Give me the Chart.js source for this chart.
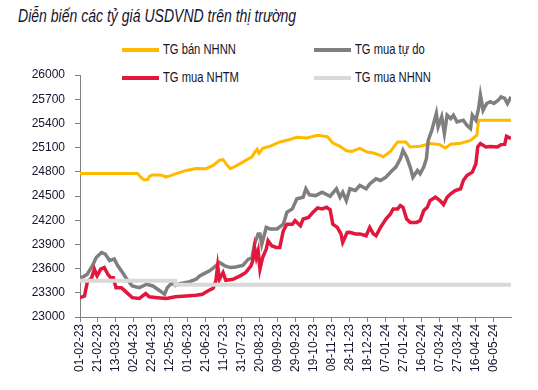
<!DOCTYPE html>
<html>
<head>
<meta charset="utf-8">
<script src="https://cdn.jsdelivr.net/npm/chart.js@4"></script>
<style>
  body { margin: 0; background: #fff; }
  #wrap { position: relative; width: 538px; height: 390px; font-family: "Liberation Sans", Arial, sans-serif; color: #14142e; }
  #title { position: absolute; left: 18px; top: 6px; font-size: 18px; font-style: italic; white-space: nowrap; transform: scaleX(0.78); transform-origin: left center; }
  .lg { position: absolute; height: 20px; }
  .lg i { position: absolute; left: 0; top: 8px; width: 37px; height: 4px; }
  .lg span { position: absolute; left: 41px; top: 1px; font-size: 14px; white-space: nowrap; transform: scaleX(0.8); transform-origin: left center; }
  canvas { position: absolute; left: 0; top: 0; }
</style>
</head>
<body>
<div id="wrap">
  <div id="title">Diễn biến các tỷ giá USDVND trên thị trường</div>
  <div id="legend"></div>
  <canvas id="chart" width="538" height="390"></canvas>
</div>
<script>
// day 0 = 01-02-2023
const startDate = new Date(2023, 1, 1);
const lastDay = 479;

const sellNhnnDays = [0, 64, 67, 71, 75, 77, 80, 89, 93, 95, 100, 106, 118, 129, 140, 148, 155, 159, 162, 167, 173, 181, 187, 191, 194, 197, 199, 203, 211, 222, 233, 241, 252, 264, 275, 281, 289, 296, 302, 311, 319, 326, 334, 337, 345, 353, 362, 367, 378, 389, 400, 406, 412, 423, 434, 441, 443, 479];
const sellNhnnVals = [24780, 24780, 24740, 24700, 24700, 24740, 24760, 24760, 24750, 24735, 24750, 24775, 24817, 24840, 24838, 24879, 24945, 24950, 24904, 24838, 24870, 24920, 24960, 24983, 25040, 25080, 25030, 25090, 25116, 25170, 25200, 25228, 25220, 25253, 25235, 25157, 25116, 25060, 25053, 25090, 25045, 25032, 25004, 24983, 25053, 25170, 25170, 25108, 25116, 25150, 25137, 25095, 25141, 25155, 25190, 25253, 25440, 25440];

const freeBuyDays = [0, 4, 8, 14, 18, 24, 28, 33, 38, 42, 46, 52, 58, 66, 74, 81, 89, 94, 97, 102, 106, 111, 122, 129, 133, 140, 144, 151, 155, 161, 167, 173, 181, 187, 191, 194, 198, 200, 202, 207, 211, 219, 226, 230, 236, 241, 248, 251, 255, 262, 269, 278, 285, 289, 292, 296, 300, 306, 311, 318, 322, 329, 334, 340, 347, 351, 356, 359, 363, 367, 370, 375, 378, 382, 385, 387, 391, 394, 396, 398, 402, 405, 408, 412, 415, 419, 426, 430, 434, 436, 440, 443, 445, 448, 452, 456, 460, 465, 468, 472, 475, 479];
const freeBuyVals = [23488, 23500, 23530, 23640, 23738, 23800, 23780, 23700, 23720, 23634, 23572, 23470, 23385, 23364, 23406, 23385, 23323, 23281, 23364, 23420, 23390, 23414, 23438, 23468, 23510, 23550, 23572, 23634, 23675, 23634, 23613, 23620, 23640, 23717, 23730, 23904, 24030, 24030, 23900, 24110, 24092, 24092, 24150, 24300, 24340, 24465, 24485, 24590, 24515, 24505, 24547, 24497, 24590, 24485, 24547, 24443, 24590, 24568, 24630, 24590, 24650, 24713, 24692, 24733, 24817, 24858, 24962, 25066, 24983, 24858, 24733, 24817, 24775, 24858, 24962, 25190, 25315, 25440, 25523, 25356, 25481, 25274, 25502, 25460, 25502, 25419, 25440, 25377, 25336, 25502, 25440, 25585, 25751, 25564, 25647, 25668, 25647, 25689, 25730, 25710, 25647, 25730];

const bankBuyDays = [0, 5, 8, 13, 16, 19, 23, 27, 31, 34, 37, 40, 46, 52, 58, 66, 73, 77, 86, 96, 106, 118, 129, 136, 142, 148, 151, 153, 155, 159, 162, 170, 178, 184, 190, 192, 194, 196, 198, 200, 203, 207, 209, 213, 218, 222, 226, 230, 236, 239, 245, 248, 254, 259, 264, 269, 274, 278, 281, 286, 290, 292, 297, 300, 306, 311, 318, 322, 326, 329, 334, 340, 345, 348, 353, 356, 359, 363, 367, 374, 378, 382, 386, 389, 395, 400, 404, 408, 412, 417, 423, 426, 430, 436, 440, 442, 445, 451, 456, 464, 468, 472, 474, 479];
const bankBuyVals = [23240, 23260, 23426, 23488, 23593, 23510, 23593, 23613, 23530, 23488, 23488, 23364, 23364, 23302, 23240, 23230, 23290, 23250, 23240, 23230, 23250, 23260, 23270, 23281, 23323, 23356, 23447, 23634, 23468, 23550, 23456, 23468, 23510, 23550, 23634, 23696, 23863, 23738, 23821, 23593, 23738, 23842, 23946, 23883, 23863, 23863, 24070, 24150, 24150, 24194, 24132, 24215, 24235, 24300, 24353, 24340, 24360, 24328, 24150, 24111, 24030, 23924, 24049, 24050, 24030, 24030, 24007, 24111, 24030, 24007, 24111, 24215, 24277, 24340, 24340, 24381, 24360, 24215, 24173, 24173, 24194, 24319, 24360, 24443, 24485, 24443, 24394, 24485, 24527, 24568, 24590, 24692, 24755, 24796, 24900, 25108, 25150, 25108, 25115, 25108, 25137, 25140, 25240, 25212];

const buyNhnnDays = [0, 106, 479];
const buyNhnnVals = [23450, 23400, 23400];

const yMin = 23000, yMax = 26000, yStep = 300;

function pts(days, vals) {
  return days.map((d, i) => ({ x: d, y: vals[i] }));
}
function dayLabel(d) {
  const t = new Date(startDate.getTime());
  t.setDate(t.getDate() + d);
  const p = n => String(n).padStart(2, "0");
  return p(t.getDate()) + "-" + p(t.getMonth() + 1) + "-" + p(t.getFullYear() % 100);
}

const series = [
  { label: "TG bán NHNN", data: pts(sellNhnnDays, sellNhnnVals), color: "#FFBA00", order: 3, width: 3 },
  { label: "TG mua tự do", data: pts(freeBuyDays, freeBuyVals), color: "#7F7F7F", order: 2, width: 3.5 },
  { label: "TG mua NHTM", data: pts(bankBuyDays, bankBuyVals), color: "#E2173D", order: 1, width: 3.5 },
  { label: "TG mua NHNN", data: pts(buyNhnnDays, buyNhnnVals), color: "#D9D9D9", order: 0, width: 4, stepped: true },
];

// legend 2x2
const legendPos = [[122, 40], [314, 40], [122, 68], [314, 68]];
const legendEl = document.getElementById("legend");
series.forEach((s, i) => {
  const d = document.createElement("div");
  d.className = "lg";
  d.style.left = legendPos[i][0] + "px";
  d.style.top = legendPos[i][1] + "px";
  d.innerHTML = '<i style="background:' + s.color + '"></i><span>' + s.label + '</span>';
  legendEl.appendChild(d);
});

const tickFont = { family: "'Liberation Sans', Arial, sans-serif", size: 12 };

new Chart(document.getElementById("chart"), {
  type: "line",
  data: {
    datasets: series.map(s => ({
      label: s.label,
      data: s.data,
      borderColor: s.color,
      backgroundColor: s.color,
      borderWidth: s.width,
      pointRadius: 0,
      tension: 0,
      stepped: s.stepped || false,
      order: s.order,
    })),
  },
  options: {
    responsive: false,
    animation: false,
    layout: { padding: { top: 75, right: 27, left: 0, bottom: 0 } },
    scales: {
      x: {
        type: "linear",
        min: 0,
        max: lastDay,
        afterFit: (scale) => { scale.height = 73; },
        border: { color: "#808080" },
        grid: { drawOnChartArea: false, tickLength: 5, color: "#808080" },
        ticks: {
          stepSize: 20,
          includeBounds: false,
          autoSkip: false,
          minRotation: 90,
          maxRotation: 90,
          padding: 2,
          color: "#14142e",
          font: tickFont,
          callback: (v) => dayLabel(v),
        },
      },
      y: {
        min: yMin,
        max: yMax,
        afterFit: (scale) => { scale.width = 80; },
        border: { color: "#808080" },
        grid: { drawOnChartArea: false, tickLength: 5, color: "#808080" },
        ticks: {
          stepSize: yStep,
          padding: 10,
          color: "#14142e",
          font: tickFont,
          callback: (v) => String(v),
        },
      },
    },
    plugins: {
      legend: { display: false },
      tooltip: { enabled: false },
    },
  },
});
</script>
</body>
</html>
